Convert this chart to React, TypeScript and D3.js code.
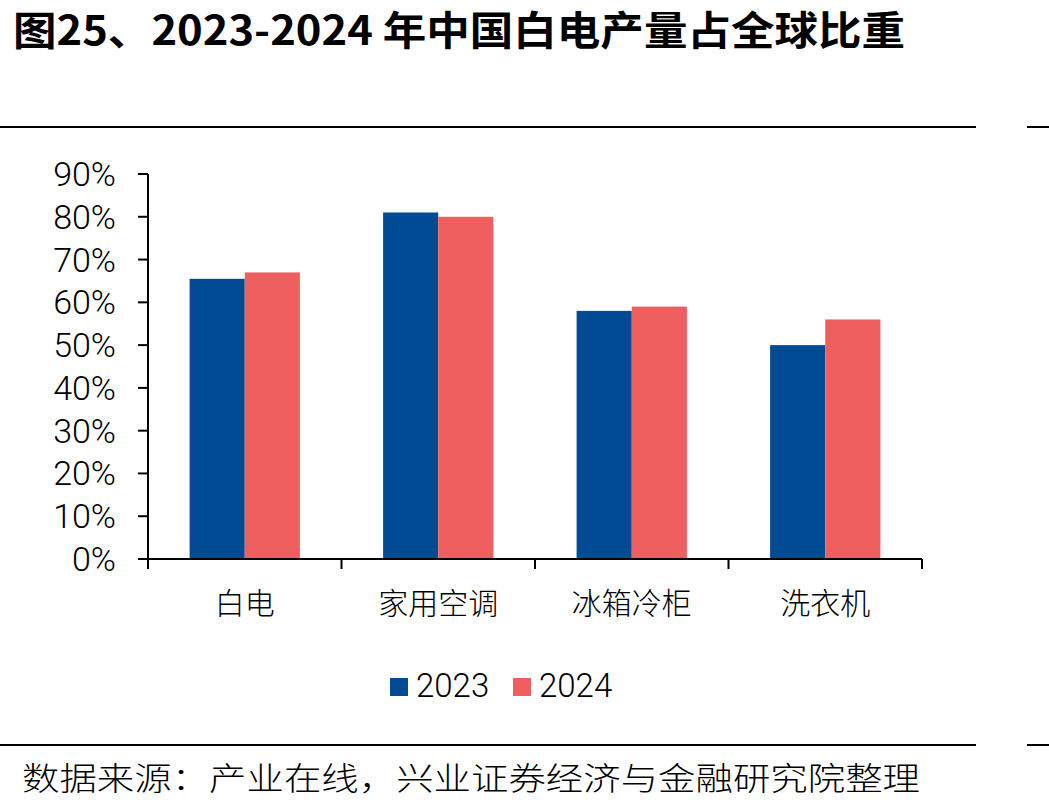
import React from "react"
import * as d3 from "d3"

const categories = ["白电", "家用空调", "冰箱冷柜", "洗衣机"]
const seriesNames = ["2023", "2024"]
const values2023 = [65.5, 81, 58, 50]
const values2024 = [67, 80, 59, 56]
const yTicks = [0, 10, 20, 30, 40, 50, 60, 70, 80, 90]
const colors = ["#004B93", "#EF5F5F"]

const title = "图25、2023-2024 年中国白电产量占全球比重"
const source = "数据来源：产业在线，兴业证券经济与金融研究院整理"

const W = 1049
const H = 810
const sans = "Roboto, 'Liberation Sans', Arial, sans-serif"
const cjk = "'Noto Sans CJK SC', sans-serif"

const App: React.FC = () => {
  const left = 148
  const right = 922
  const top = 174
  const bottom = 559

  const x = d3
    .scaleBand<string>()
    .domain(categories)
    .range([left, right])
    .paddingInner(0.43)
    .paddingOuter(0.215)
  const step = x.step()
  const y = d3.scaleLinear().domain([0, 90]).range([bottom, top])
  const series = [values2023, values2024]
  const bw = x.bandwidth() / 2

  return (
    <svg width={W} height={H} style={{ position: "absolute", left: 0, top: 0 }}>
      <rect width={W} height={H} fill="#fff" />
      <text
        x={13}
        y={45}
        fontFamily={cjk}
        fontWeight={700}
        fontSize={40}
        textLength={892}
        lengthAdjust="spacingAndGlyphs"
        fill="#000"
      >
        {title}
      </text>
      <line x1={0} x2={976} y1={127} y2={127} stroke="#000" strokeWidth={2} />
      <line x1={1027} x2={W} y1={127} y2={127} stroke="#000" strokeWidth={2} />

      {/* bars */}
      {series.map((vals, si) =>
        categories.map((c, i) => (
          <rect
            key={`${si}-${c}`}
            x={(x(c) || 0) + si * bw}
            y={y(vals[i])}
            width={bw}
            height={bottom - y(vals[i])}
            fill={colors[si]}
          />
        ))
      )}

      {/* y axis */}
      <line x1={left} x2={left} y1={top} y2={bottom} stroke="#000" strokeWidth={2} />
      {yTicks.map((t) => (
        <g key={t}>
          <line x1={left - 10} x2={left} y1={y(t)} y2={y(t)} stroke="#000" strokeWidth={2} />
          <text
            x={116}
            y={y(t) + 12}
            textAnchor="end"
            fontFamily={sans}
            fontWeight={300}
            fontSize={34}
            fill="#000"
          >
            {t}%
          </text>
        </g>
      ))}

      {/* x axis */}
      <line x1={left - 10} x2={right} y1={bottom} y2={bottom} stroke="#000" strokeWidth={2} />
      {d3.range(categories.length + 1).map((i) => (
        <line
          key={i}
          x1={left + i * step}
          x2={left + i * step}
          y1={bottom}
          y2={bottom + 10}
          stroke="#000"
          strokeWidth={2}
        />
      ))}
      {categories.map((c) => (
        <text
          key={c}
          x={(x(c) || 0) + x.bandwidth() / 2}
          y={614}
          textAnchor="middle"
          fontFamily={cjk}
          fontWeight={300}
          fontSize={30}
          fill="#000"
        >
          {c}
        </text>
      ))}

      {/* legend */}
      {seriesNames.map((s, i) => (
        <g key={s} transform={`translate(${390 + i * 123},0)`}>
          <rect x={0} y={678} width={18} height={18} fill={colors[i]} />
          <text x={26} y={697} fontFamily={sans} fontWeight={300} fontSize={33} fill="#000">
            {s}
          </text>
        </g>
      ))}

      <line x1={0} x2={976} y1={745} y2={745} stroke="#000" strokeWidth={2} />
      <line x1={1027} x2={W} y1={745} y2={745} stroke="#000" strokeWidth={2} />
      <text
        x={22}
        y={790}
        fontFamily={cjk}
        fontWeight={300}
        fontSize={32}
        textLength={898}
        lengthAdjust="spacingAndGlyphs"
        fill="#000"
      >
        {source}
      </text>
    </svg>
  )
}

export default App
